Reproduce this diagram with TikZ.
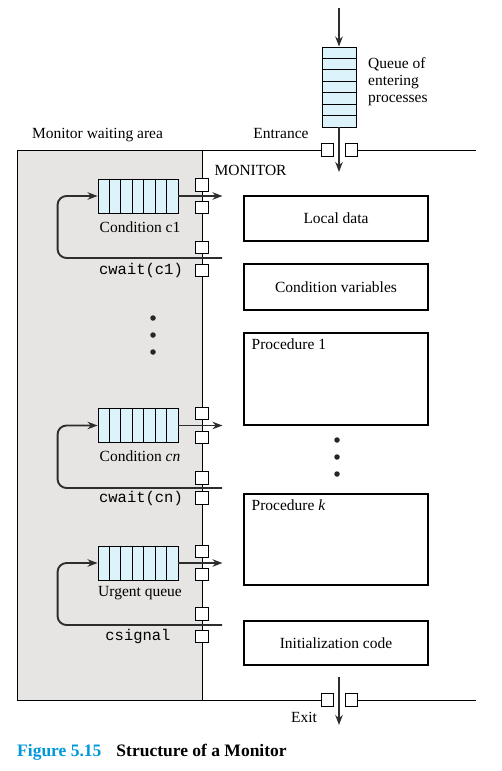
\documentclass[tikz,border=0pt]{standalone}
\usepackage{fontspec}
\setmainfont{Liberation Serif}
\setmonofont{Liberation Mono}
\usetikzlibrary{arrows.meta}
\usetikzlibrary{positioning}
\usetikzlibrary{calc}

\definecolor{waitgray}{RGB}{230,229,227}
\definecolor{queueblue}{RGB}{221,243,251}
\definecolor{figblue}{RGB}{0,152,218}
\definecolor{flowgray}{RGB}{45,45,45}

% slot lines of a queue lying flat / standing up
\newcommand{\hslots}[1]{%
  \foreach \i in {1,...,6}
    \draw[line width=0.9pt] ($(#1.north west)!\i/7!(#1.north east)$) -- ($(#1.south west)!\i/7!(#1.south east)$);}
\newcommand{\vslots}[1]{%
  \foreach \i in {1,...,6}
    \draw[line width=0.9pt] ($(#1.north west)!\i/7!(#1.south west)$) -- ($(#1.north east)!\i/7!(#1.south east)$);}

\tikzset{
  box/.style={draw, line width=1.1pt, minimum width=184pt, inner sep=0pt},
  gate/.style={draw, fill=white, line width=0.9pt, minimum size=12.5pt, inner sep=0pt},
  queue/.style={draw, fill=queueblue, line width=0.9pt, minimum width=80pt, minimum height=34pt, inner sep=0pt},
  flow/.style={-{Stealth[length=10pt,width=7.5pt]}, line width=1.9pt, draw=flowgray},
  loopback/.style={flow, rounded corners=9pt},
  wall/.style={line width=0.9pt},
  dot/.style={circle, fill=black!85, inner sep=0pt, minimum size=5.5pt},
}

\begin{document}
\begin{tikzpicture}[x=1pt, y=-1pt, font=\fontsize{15.5}{17}\selectfont]
\useasboundingbox (0,0) rectangle (502,771);

% Monitor waiting area
\fill[waitgray] (17,150) rectangle (202,700);
\coordinate (wallNW) at (17,150);
\coordinate (wallSW) at (17,700);
\coordinate (wallNE) at (476,150);
\coordinate (wallSE) at (476,700);
\coordinate (innerN) at (202,150);
\coordinate (innerS) at (202,700);
\draw[wall] (innerN) -- (innerS);

% gates
\node[gate] (inL)  at (327.5,150) {};
\node[gate] (inR)  at (351.5,150) {};
\node[gate] (outL) at (327.5,700) {};
\node[gate] (outR) at (351.5,700) {};
\node[gate] (g1a) at (202,185) {};
\node[gate] (g1b) at (202,207.5) {};
\node[gate] (g1c) at (202,247.5) {};
\node[gate] (g1d) at (202,270.5) {};
\node[gate] (gna) at (202,413.5) {};
\node[gate] (gnb) at (202,437.5) {};
\node[gate] (gnc) at (202,478) {};
\node[gate] (gnd) at (202,498) {};
\node[gate] (gua) at (202,551.5) {};
\node[gate] (gub) at (202,574.5) {};
\node[gate] (guc) at (202,614) {};
\node[gate] (gud) at (202,636.5) {};

\draw[wall] (inL.west) -- (wallNW) -- (wallSW) -- (outL.west);
\draw[wall] (inR.east) -- (wallNE);
\draw[wall] (outR.east) -- (wallSE);

% labels outside
\node (waitarea) at (97.5,135) {Monitor waiting area};
\node (entrance) at (281,133) {Entrance};
\node[anchor=west] (monitor) at (211,170) {MONITOR};
\node[anchor=base] (exit) at (304,722) {Exit};

% queue of entering processes
\node[queue, minimum width=34pt, minimum height=80pt] (qin) at (339,87) {};
\vslots{qin}
\node[anchor=north west, align=left, inner sep=0pt] (qinlabel) at (368,57) {Queue of\\entering\\processes};
\coordinate (source) at (339,8);
\coordinate (intip) at (339,172);
\draw[flow] (source) -- (qin.north);
\draw[flow] (qin.south) -- (intip);
\coordinate (exittail) at (339,677);
\coordinate (exittip) at (339,725);
\draw[flow] (exittail) -- (exittip);

% monitor parts
\node[box, minimum height=45pt] (localdata) at (336,218.5) {Local data};
\node[box, minimum height=46pt] (condvars) at (336,287) {Condition variables};
\node[box, minimum height=92pt] (proc1) at (336,379) {};
\node[anchor=north west, inner sep=0pt] at ([xshift=8pt,yshift=-6pt]proc1.north west) {Procedure 1};
\node[box, minimum height=91pt] (prock) at (336,539.5) {};
\node[anchor=north west, inner sep=0pt] at ([xshift=8pt,yshift=-6pt]prock.north west) {Procedure \textit{k}};
\node[box, minimum height=44pt] (initcode) at (336,643) {Initialization code};
\foreach \y in {440,457,474} \node[dot] at (337,\y) {};

% condition c1
\node[queue] (q1) at (138,196) {};
\hslots{q1}
\node (q1label) at (140,227) {Condition c1};
\node (cwait1) at (141,270) {\texttt{cwait(c1)}};
\coordinate (q1tip) at ([xshift=44pt]q1.east);
\coordinate (q1back) at (222,258);
\draw[flow] (q1.east) -- (q1tip);
\draw[loopback] (q1back) -| ([xshift=-40pt]q1.west) -- (q1.west);

\foreach \y in {318,335,352} \node[dot] at (153,\y) {};

% condition cn
\node[queue] (qn) at (138,425.5) {};
\hslots{qn}
\node (qnlabel) at (140,456) {Condition \textit{cn}};
\node (cwaitn) at (141,498) {\texttt{cwait(cn)}};
\coordinate (qntip) at ([xshift=44pt]qn.east);
\coordinate (qnback) at (222,488);
\draw[flow] (qn.east) -- (qntip);
\draw[loopback] (qnback) -| ([xshift=-40pt]qn.west) -- (qn.west);

% urgent queue
\node[queue] (qu) at (138,563) {};
\hslots{qu}
\node (qulabel) at (140,593) {Urgent queue};
\node (csignal) at (138,636) {\texttt{csignal}};
\coordinate (qutip) at ([xshift=44pt]qu.east);
\coordinate (quback) at (222,625);
\draw[flow] (qu.east) -- (qutip);
\draw[loopback] (quback) -| ([xshift=-40pt]qu.west) -- (qu.west);

% caption
\node[anchor=base west, inner sep=0pt, font=\fontsize{17.5}{20}\selectfont\bfseries] (caption) at (17,756)
  {\textcolor{figblue}{Figure 5.15}\hspace{15pt}Structure of a Monitor};

\end{tikzpicture}
\end{document}
